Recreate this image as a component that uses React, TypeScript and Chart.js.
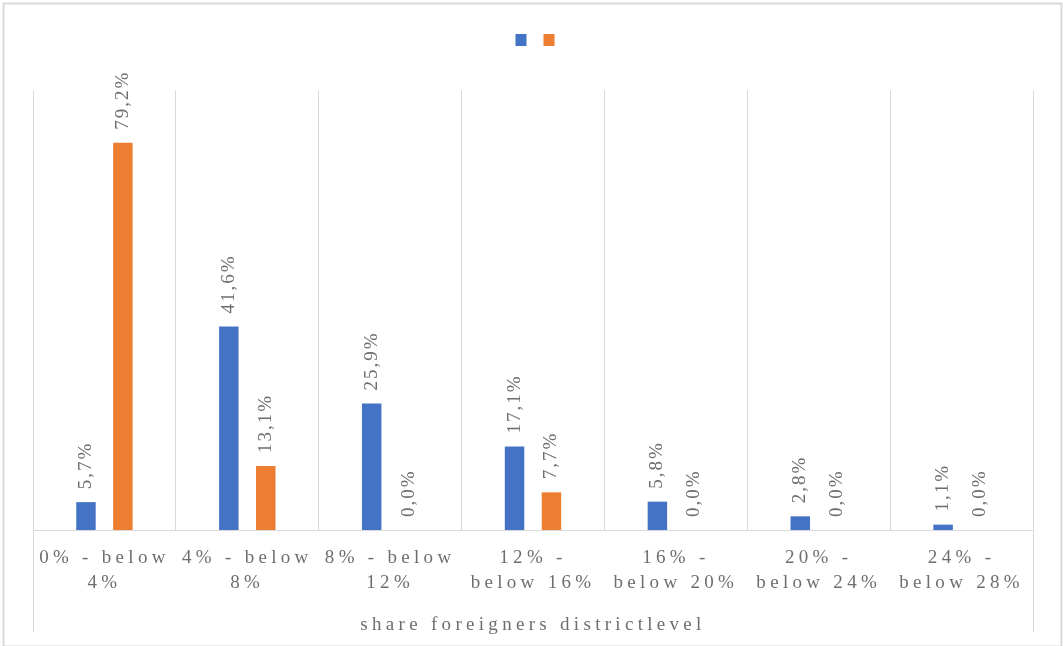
import React, { useEffect, useRef } from "react";
import { Chart, registerables } from "chart.js";

Chart.register(...registerables);

const categories: string[][] = [
  ["0% - below", "4%"],
  ["4% - below", "8%"],
  ["8% - below", "12%"],
  ["12% -", "below 16%"],
  ["16% -", "below 20%"],
  ["20% -", "below 24%"],
  ["24% -", "below 28%"],
];
const seriesBlue: number[] = [5.7, 41.6, 25.9, 17.1, 5.8, 2.8, 1.1];
const seriesOrange: number[] = [79.2, 13.1, 0.0, 7.7, 0.0, 0.0, 0.0];
const axisTitle = "share foreigners districtlevel";

const FONT = "'Liberation Serif', 'Times New Roman', serif";
const TEXT = "#6e6e6e";
const GRID = "#d9d9d9";
const SPACING = "4.3px";

const frameAndSpacing = {
  id: "frameAndSpacing",
  beforeLayout(chart: any) {
    chart.ctx.letterSpacing = SPACING;
    const legend = chart.legend;
    if (legend && !legend.__patched) {
      const origFit = legend.fit;
      legend.fit = function () {
        origFit.call(this);
        this.height += 35;
      };
      const origDraw = legend.draw;
      legend.draw = function (...args: any[]) {
        const c = this.ctx;
        c.save();
        c.translate(4, 1);
        origDraw.apply(this, args);
        c.restore();
      };
      legend.__patched = true;
    }
  },
  beforeDraw(chart: any) {
    const ctx = chart.ctx;
    ctx.letterSpacing = SPACING;
    ctx.save();
    ctx.letterSpacing = "0px";
    ctx.strokeStyle = GRID;
    ctx.lineWidth = 2;
    ctx.strokeRect(3.5, 3.5, chart.width - 5, chart.height - 3);
    const a = chart.chartArea;
    ctx.lineWidth = 1;
    ctx.beginPath();
    ctx.moveTo(Math.round(a.left) + 0.5, a.bottom);
    ctx.lineTo(Math.round(a.left) + 0.5, chart.height - 14);
    ctx.moveTo(Math.round(a.right) + 0.5, a.bottom);
    ctx.lineTo(Math.round(a.right) + 0.5, chart.height - 14);
    ctx.stroke();
    ctx.restore();
  },
  afterDatasetsDraw(chart: any) {
    const ctx = chart.ctx;
    ctx.save();
    ctx.letterSpacing = "2px";
    ctx.font = `19px ${FONT}`;
    ctx.fillStyle = TEXT;
    ctx.textAlign = "left";
    ctx.textBaseline = "middle";
    chart.data.datasets.forEach((ds: any, di: number) => {
      const meta = chart.getDatasetMeta(di);
      meta.data.forEach((bar: any, i: number) => {
        const v = ds.data[i] as number;
        const label = v.toFixed(1).replace(".", ",") + "%";
        ctx.save();
        ctx.translate(bar.x, bar.y - 13);
        ctx.rotate(-Math.PI / 2);
        ctx.fillText(label, 0, 0);
        ctx.restore();
      });
    });
    ctx.restore();
  },
};

export default function App() {
  const ref = useRef<HTMLCanvasElement>(null);
  useEffect(() => {
    document.body.style.margin = "0";
    const chart = new Chart(ref.current!, {
      type: "bar",
      data: {
        labels: categories,
        datasets: [
          {
            label: "a",
            data: seriesBlue,
            backgroundColor: "#4472C4",
            categoryPercentage: 0.517,
            barPercentage: 0.527,
          },
          {
            label: "b",
            data: seriesOrange,
            backgroundColor: "#ED7D31",
            categoryPercentage: 0.517,
            barPercentage: 0.527,
          },
        ],
      },
      options: {
        animation: false,
        responsive: false,
        maintainAspectRatio: false,
        layout: { padding: { left: 33, right: 30, top: 20, bottom: 6 } },
        plugins: {
          legend: {
            display: true,
            position: "top",
            labels: {
              boxWidth: 11,
              boxHeight: 12,
              padding: 13,
              font: { size: 8, family: FONT },
              generateLabels(chart: any) {
                return chart.data.datasets.map((ds: any, i: number) => ({
                  text: "",
                  fillStyle: ds.backgroundColor,
                  strokeStyle: ds.backgroundColor,
                  lineWidth: 0,
                  hidden: false,
                  datasetIndex: i,
                }));
              },
            },
          },
          tooltip: { enabled: false },
        },
        scales: {
          x: {
            grid: {
              display: true,
              color: GRID,
              lineWidth: 1,
              drawTicks: false,
              offset: true,
            },
            border: { display: true, color: GRID, width: 1 },
            ticks: {
              color: TEXT,
              font: { family: FONT, size: 19, lineHeight: 25 / 19 },
              padding: 16,
              maxRotation: 0,
              minRotation: 0,
              autoSkip: false,
            },
            title: {
              display: true,
              text: axisTitle,
              color: TEXT,
              font: { family: FONT, size: 19, lineHeight: 25 / 19 },
              padding: { top: 1, bottom: 2 },
            },
          },
          y: {
            display: false,
            min: 0,
            max: 90,
          },
        },
      },
      plugins: [frameAndSpacing],
    });
    return () => chart.destroy();
  }, []);
  return (
    <div style={{ width: 1063, height: 646 }}>
      <canvas ref={ref} width={1063} height={646} style={{ display: "block" }} />
    </div>
  );
}
